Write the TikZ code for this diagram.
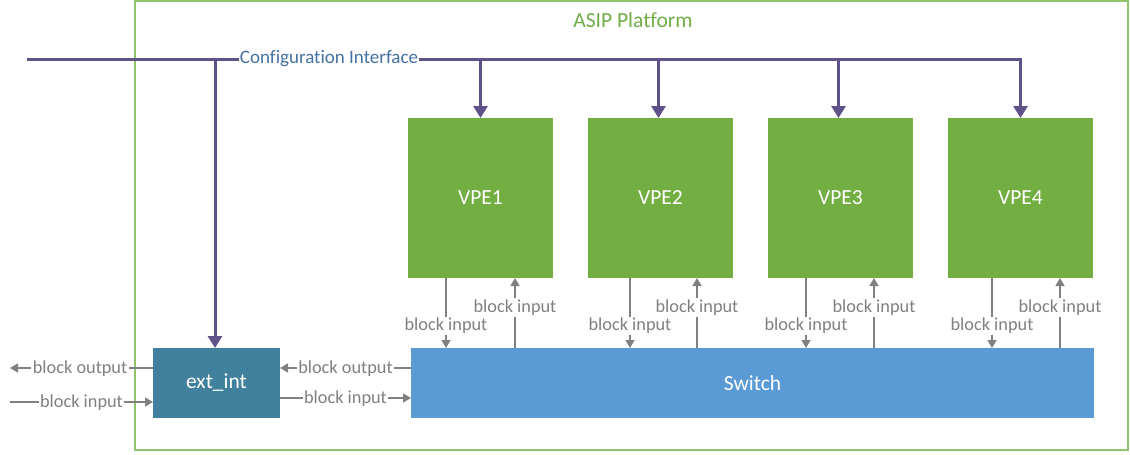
\documentclass[tikz,border=0pt]{standalone}
\usepackage{fontspec}
\setmainfont{Carlito}[Ligatures=NoCommon]
\usetikzlibrary{arrows.meta,calc}
\definecolor{frameg}{HTML}{8FC46A}
\definecolor{titleg}{HTML}{70AD47}
\definecolor{vpeg}{HTML}{72AE41}
\definecolor{swblue}{HTML}{5B9BD5}
\definecolor{extteal}{HTML}{42819E}
\definecolor{cfgpurple}{HTML}{5F5289}
\definecolor{cfgtext}{HTML}{4472A4}
\definecolor{gline}{HTML}{808080}
\begin{document}
\begin{tikzpicture}[x=1pt,y=-1pt,
  frame/.style={draw=frameg,line width=1.5pt,inner sep=0pt,outer sep=0pt,anchor=north west},
  vpe/.style={fill=vpeg,text=white,inner sep=0pt,outer sep=0pt,anchor=north west,minimum width=145pt,minimum height=160pt,font=\fontsize{21.5}{25}\selectfont},
  blk/.style={text=white,inner sep=0pt,outer sep=0pt,anchor=north west,minimum height=70pt,font=\fontsize{21.5}{25}\selectfont},
  pline/.style={draw=cfgpurple,line width=3pt},
  parrow/.style={pline,-{Triangle[width=14pt,length=12pt]}},
  garrow/.style={draw=gline,line width=1.4pt,-{Triangle[width=9pt,length=8pt]}},
  glabel/.style={fill=white,text=gline,inner sep=1.5pt,yshift=-1pt,font=\fontsize{18.3}{21}\selectfont}
]
\useasboundingbox (0,0) rectangle (1130,455);
\node[frame,minimum width=993pt,minimum height=449pt] (plat) at (135,1) {};
\node[text=titleg,font=\fontsize{21.5}{25}\selectfont] (ttl) at (633,20) {ASIP Platform};

\node[vpe] (v1) at (408,118) {VPE1};
\node[vpe] (v2) at (588,118) {VPE2};
\node[vpe] (v3) at (768,118) {VPE3};
\node[vpe] (v4) at (948,118) {VPE4};
\node[blk,fill=swblue,minimum width=683pt] (sw) at (411,348) {Switch};
\node[blk,fill=extteal,minimum width=127pt] (ext) at (153,348) {ext\_int};

% configuration interface
\coordinate (cfgL) at (27,59);
\draw[parrow] (cfgL) -- (v4.north |- cfgL) -- (v4.north);
\draw[parrow] ($(ext.north |- cfgL)+(-1.5,0)$) -- ($(ext.north)+(-1.5,0)$);
\draw[parrow] (v1.north |- cfgL) -- (v1.north);
\draw[parrow] ($(v2.north |- cfgL)+(-2,0)$) -- ($(v2.north)+(-2,0)$);
\draw[parrow] ($(v3.north |- cfgL)+(-2,0)$) -- ($(v3.north)+(-2,0)$);
\node[fill=white,text=cfgtext,inner sep=1pt,font=\fontsize{19}{22}\selectfont] (cfg) at (329,58.5) {Configuration Interface};

% VPE <-> switch
\foreach \v/\dn/\up in {v1/38/107, v2/42/109, v3/38/106, v4/44/112}{
  \draw[garrow] ($(\v.south west)+(\dn,0)$) -- node[glabel,pos=0.67]{block input} ($(\v.south west |- sw.north)+(\dn,0)$);
  \draw[garrow] ($(\v.south west |- sw.north)+(\up,0)$) -- node[glabel,pos=0.59]{block input} ($(\v.south west)+(\up,0)$);
}

% ext_int connections
\coordinate (outL) at (10,368);
\coordinate (inL) at (10,402);
\draw[garrow] (ext.west |- outL) -- node[glabel,pos=0.51]{block output} (outL);
\draw[garrow] (inL) -- node[glabel,pos=0.5]{block input} (ext.west |- inL);
\draw[garrow] (sw.west |- outL) -- node[glabel,pos=0.5]{block output} (ext.east |- outL);
\draw[garrow] (ext.east |- 0,398) -- node[glabel,pos=0.5]{block input} (sw.west |- 0,398);
\end{tikzpicture}
\end{document}
